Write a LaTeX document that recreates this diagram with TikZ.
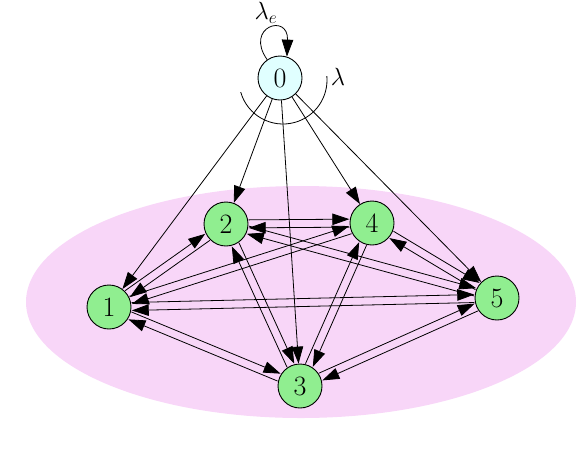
\documentclass[tikz,border=0pt]{standalone}
\usepackage{amsmath,amsfonts,amssymb}
\usepackage{tikz}
\usetikzlibrary{positioning,arrows.meta,calc}
\definecolor{nodegreen}{RGB}{144,238,144}
\definecolor{nodecyan}{RGB}{224,255,255}
\definecolor{clusterpink}{RGB}{248,214,248}
\tikzset{line/.style={draw, -{Triangle[length=17pt,width=11.5pt]}, line width=0.8pt}}

\begin{document}
\begin{tikzpicture}[x=1pt, y=1pt, main/.style = {draw, circle, fill=nodegreen, minimum size=44pt, inner sep=0pt, line width=0.9pt, font=\fontsize{28}{32}\selectfont}]
\useasboundingbox (0,0) rectangle (578,-456);
\fill[clusterpink] (301,-302) ellipse [x radius=275, y radius=116];
\node[main,fill=nodecyan] (0) at (280,-78) {0};
\node[main] (1) at (109,-307) {1};
\node[main] (2) at (226,-224) {2};
\node[main] (3) at (300,-386) {3};
\node[main] (4) at (372,-223) {4};
\node[main] (5) at (497,-298) {5};
% self loop and split arc of stage 0
\draw[line] (0.125) .. controls +(125:40) and +(88:44) .. (0.72);
\node[font=\fontsize{25}{30}\selectfont] (le) at (266,-13) {$\lambda_e$};
\draw[line width=0.8pt] ($(0)+(3,-2)+(196:44)$) arc[start angle=196, end angle=365, radius=44];
\node[font=\fontsize{25}{30}\selectfont] (l) at (338,-77) {$\lambda$};
% arrivals
\draw[line] (0) -- (1);
\draw[line] (0) -- (2);
\draw[line] (0) -- (3);
\draw[line] (0) -- (4);
\draw[line] (0) -- (5);
% moves between stations
\draw[line] ($(1)!23pt!10:(2)$) -- ($(2)!23pt!-10:(1)$);
\draw[line] ($(2)!23pt!10:(1)$) -- ($(1)!23pt!-10:(2)$);
\draw[line] ($(1)!23pt!10:(3)$) -- ($(3)!23pt!-10:(1)$);
\draw[line] ($(3)!23pt!10:(1)$) -- ($(1)!23pt!-10:(3)$);
\draw[line] ($(1)!23pt!10:(4)$) -- ($(4)!23pt!-10:(1)$);
\draw[line] ($(4)!23pt!10:(1)$) -- ($(1)!23pt!-10:(4)$);
\draw[line] ($(1)!23pt!10:(5)$) -- ($(5)!23pt!-10:(1)$);
\draw[line] ($(5)!23pt!10:(1)$) -- ($(1)!23pt!-10:(5)$);
\draw[line] ($(2)!23pt!10:(3)$) -- ($(3)!23pt!-10:(2)$);
\draw[line] ($(3)!23pt!10:(2)$) -- ($(2)!23pt!-10:(3)$);
\draw[line] ($(2)!23pt!10:(4)$) -- ($(4)!23pt!-10:(2)$);
\draw[line] ($(4)!23pt!10:(2)$) -- ($(2)!23pt!-10:(4)$);
\draw[line] ($(2)!23pt!10:(5)$) -- ($(5)!23pt!-10:(2)$);
\draw[line] ($(5)!23pt!10:(2)$) -- ($(2)!23pt!-10:(5)$);
\draw[line] ($(3)!23pt!10:(4)$) -- ($(4)!23pt!-10:(3)$);
\draw[line] ($(4)!23pt!10:(3)$) -- ($(3)!23pt!-10:(4)$);
\draw[line] ($(3)!23pt!10:(5)$) -- ($(5)!23pt!-10:(3)$);
\draw[line] ($(5)!23pt!10:(3)$) -- ($(3)!23pt!-10:(5)$);
\draw[line] ($(4)!23pt!10:(5)$) -- ($(5)!23pt!-10:(4)$);
\draw[line] ($(5)!23pt!10:(4)$) -- ($(4)!23pt!-10:(5)$);
\end{tikzpicture}
\end{document}
